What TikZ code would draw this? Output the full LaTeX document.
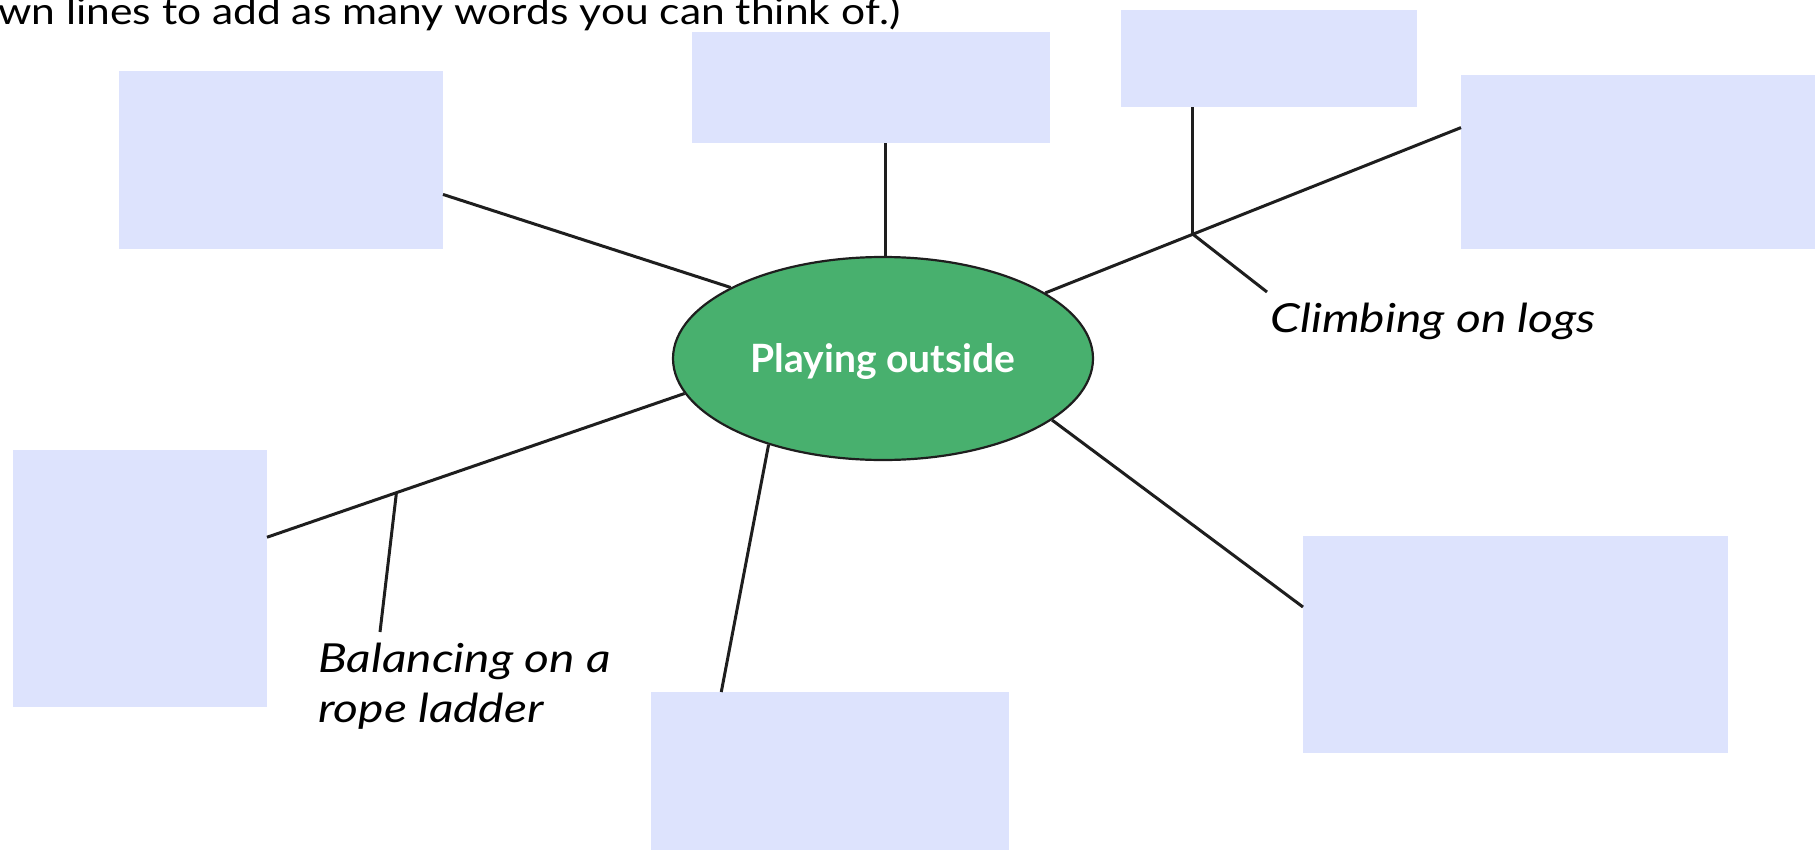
\documentclass[tikz,border=0pt]{standalone}
\usepackage{fontspec}
\setmainfont{Lato}
\newfontfamily\notefont[FakeStretch=1.15]{Lato}
\newfontfamily\handfont[FakeStretch=1.2]{Lato}
\usetikzlibrary{shapes.geometric}

\definecolor{boxblue}{RGB}{221,227,253}
\definecolor{topicgreen}{RGB}{72,176,110}
\definecolor{linegray}{RGB}{30,30,30}

\begin{document}
\begin{tikzpicture}[
    x=1pt, y=-1pt,
    blank/.style={fill=boxblue, inner sep=0pt, outer sep=0pt},
    topicnode/.style={
        ellipse, draw=linegray, line width=2.2pt, fill=topicgreen,
        minimum width=420pt, minimum height=203pt, inner sep=0pt,
        text=white, font=\bfseries\fontsize{39}{44}\selectfont
    },
    hand/.style={font=\handfont\itshape\fontsize{40}{50}\selectfont, inner sep=0pt, align=left},
    link/.style={draw=linegray, line width=3pt}
]
\useasboundingbox (0,0) rectangle (1820,851);

% Instruction line (cut at the top edge)
\node[anchor=base west, inner sep=0pt, font=\notefont\fontsize{37}{42}\selectfont] (note) at (-2,25)
    {wn lines to add as many words you can think of.)};

% -------------------------
% Central topic
% -------------------------
\node[topicnode] (topic) at (883,358.5) {\raisebox{-14pt}[0pt][0pt]{Playing outside}};

% -------------------------
% Empty word boxes
% -------------------------
\node[blank, minimum width=324pt, minimum height=178pt] (box1) at (281,160) {};
\node[blank, minimum width=358pt, minimum height=111pt] (box2) at (871,87.5) {};
\node[blank, minimum width=296pt, minimum height=97pt]  (box3) at (1269,58.5) {};
\node[blank, minimum width=354pt, minimum height=174pt] (box4) at (1638,162) {};
\node[blank, minimum width=254pt, minimum height=257pt] (box5) at (140,578.5) {};
\node[blank, minimum width=358pt, minimum height=158pt] (box6) at (830,771) {};
\node[blank, minimum width=425pt, minimum height=217pt] (box7) at (1515.5,644.5) {};

% Example answers
\node[hand, anchor=base west] (climb) at (1270,332) {Climbing on logs};
\node[hand, anchor=north west] (balance) at (318,643) {Balancing on a\\rope ladder};

\coordinate (tip1) at (1267,292);
\coordinate (tip2) at (380,632);

% -------------------------
% Spokes
% -------------------------
\draw[link] (box1.-12.9) -- (topic.155.5);
\draw[link] (box2.-75) -- (box2.-75 |- topic.north);
\draw[link] (topic.22) -- coordinate[pos=0.355] (fork1) (box4.169.1);
\draw[link] (fork1) -- (fork1 |- box3.south);
\draw[link] (fork1) -- (tip1);
\draw[link] (topic.190.4) -- coordinate[pos=0.69] (fork2) (box5.18.5);
\draw[link] (fork2) -- (tip2);
\draw[link] (topic.217.5) -- (box6.144.2);
\draw[link] (topic.340.7) -- (box7.170);

\end{tikzpicture}
\end{document}
